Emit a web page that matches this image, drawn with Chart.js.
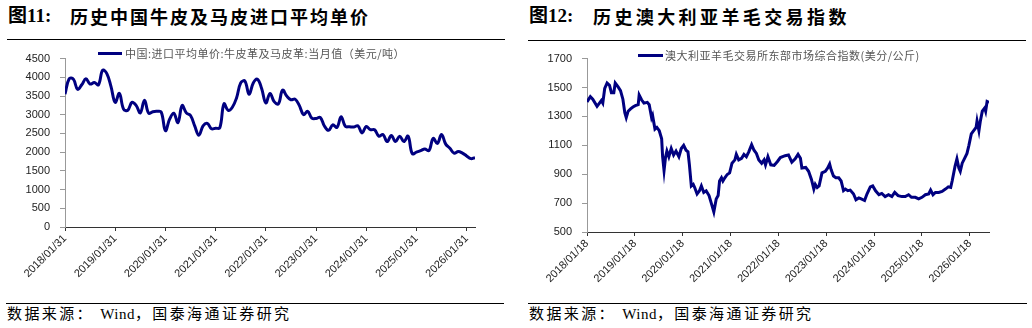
<!DOCTYPE html>
<html>
<head>
<meta charset="utf-8">
<script src="https://cdn.jsdelivr.net/npm/chart.js@4/dist/chart.umd.min.js"></script>
<style>
  body { margin: 0; width: 1032px; height: 328px; background: #fff; position: relative; overflow: hidden;
         font-family: "Liberation Serif", "Noto Sans CJK SC", serif; }
  .num { position: absolute; top: 6px; font-size: 19px; line-height: 20px; font-weight: bold; white-space: nowrap; }
  .ttl { position: absolute; top: 6px; font-size: 18px; line-height: 20px; font-weight: bold; white-space: nowrap;
         font-family: "Noto Sans CJK SC", sans-serif; }
  .rule { position: absolute; height: 0; border-top: 1.5px solid #000; }
  .src { position: absolute; top: 305px; font-size: 15px; line-height: 16px; white-space: nowrap; letter-spacing: 2.4px; }
  .src .cn { font-family: "Noto Sans CJK SC", sans-serif; }
  .src .en { letter-spacing: 0.5px; }
  .leg { position: absolute; font-family: "Noto Sans CJK SC", sans-serif; font-size: 11px; line-height: 12px;
         color: #555; white-space: nowrap; }
  .legline { position: absolute; height: 3px; background: #000080; }
  canvas { position: absolute; }
</style>
</head>
<body>

<div class="num" style="left:8px">图11:</div>
<div class="ttl" style="left:70px;letter-spacing:2px">历史中国牛皮及马皮进口平均单价</div>
<div class="rule" style="left:7px;width:498px;top:39px"></div>

<div class="num" style="left:529px">图12:</div>
<div class="ttl" style="left:593px;letter-spacing:3.4px">历史澳大利亚羊毛交易指数</div>
<div class="rule" style="left:528px;width:498px;top:40px"></div>

<canvas id="hide" width="498" height="258" style="left:7px;top:42px"></canvas>
<canvas id="wool" width="498" height="258" style="left:522px;top:42px"></canvas>

<div class="legline" style="left:98px;top:52px;width:24px"></div>
<div class="leg" style="left:125px;top:47px;letter-spacing:0.5px">中国:进口平均单价:牛皮革及马皮革:当月值（美元/吨）</div>
<div class="legline" style="left:638px;top:54px;width:25px"></div>
<div class="leg" style="left:665px;top:49px;letter-spacing:0.5px">澳大利亚羊毛交易所东部市场综合指数(美分/公斤)</div>

<div class="rule" style="left:6px;width:498px;top:303px"></div>
<div class="src" style="left:7px"><span class="cn">数据来源：</span> <span class="en">Wind</span><span class="cn">，国泰海通证券研究</span></div>
<div class="rule" style="left:528px;width:499px;top:303px"></div>
<div class="src" style="left:529px"><span class="cn">数据来源：</span> <span class="en">Wind</span><span class="cn">，国泰海通证券研究</span></div>

<script>
// 图11 月度数据 2018/01 - 2026/03 (美元/吨)
const hideTicks = ['2018/01/31', '2019/01/31', '2020/01/31', '2021/01/31', '2022/01/31',
  '2023/01/31', '2024/01/31', '2025/01/31', '2026/01/31'];
const hideValues = [
  3550, 3960, 3950, 3680, 3800, 3960, 3820, 3860, 3800, 4190,
  4100, 3750, 3330, 3570, 3150, 3120, 3330, 3250, 3050, 3390,
  3040, 3080, 3090, 3070, 2575, 2880, 3040, 2790, 3245, 3050,
  2980, 2700, 2454, 2700, 2770, 2626, 2640, 2650, 3290, 3116,
  3200, 3450, 3850, 3900, 3546, 3850, 3950, 3700, 3314, 3570,
  3350, 3290, 3657, 3500, 3400, 3417, 3250, 3005, 3090, 2910,
  2900, 2930, 2700, 2583, 2729, 2661, 2944, 2690, 2680, 2670,
  2704, 2515, 2686, 2600, 2600, 2428, 2472, 2283, 2446, 2283,
  2428, 2283, 2428, 1960, 2000, 2040, 2085, 2041, 2368, 2232,
  2472, 2214, 2103, 1974, 2016, 1974, 1900, 1827, 1853
];

// 图12 周度数据, woolT = 距 2018/01/18 的年数 (美分/公斤)
const woolTicks = ['2018/01/18', '2019/01/18', '2020/01/18', '2021/01/18', '2022/01/18',
  '2023/01/18', '2024/01/18', '2025/01/18', '2026/01/18'];
const woolT = [
  0.00, 0.07, 0.12, 0.21, 0.26, 0.30, 0.33, 0.37, 0.42, 0.47,
  0.51, 0.56, 0.59, 0.65, 0.70, 0.75, 0.79, 0.82, 0.86, 0.91,
  0.96, 1.01, 1.07, 1.09, 1.14, 1.19, 1.26, 1.30, 1.35, 1.37,
  1.42, 1.46, 1.51, 1.56, 1.58, 1.61, 1.64, 1.67, 1.71, 1.76,
  1.81, 1.86, 1.92, 1.97, 2.02, 2.07, 2.11, 2.14, 2.18, 2.22,
  2.25, 2.30, 2.35, 2.39, 2.44, 2.49, 2.55, 2.60, 2.65, 2.70,
  2.74, 2.77, 2.81, 2.84, 2.88, 2.93, 2.98, 3.03, 3.09, 3.12,
  3.17, 3.23, 3.28, 3.33, 3.38, 3.44, 3.49, 3.54, 3.59, 3.65,
  3.70, 3.73, 3.78, 3.84, 3.91, 3.98, 4.04, 4.14, 4.21, 4.28,
  4.35, 4.41, 4.46, 4.49, 4.57, 4.63, 4.69, 4.74, 4.77, 4.81,
  4.85, 4.91, 4.98, 5.03, 5.07, 5.10, 5.15, 5.20, 5.26, 5.31,
  5.36, 5.40, 5.45, 5.50, 5.57, 5.62, 5.68, 5.73, 5.80, 5.85,
  5.92, 5.97, 6.03, 6.10, 6.16, 6.23, 6.30, 6.37, 6.43, 6.50,
  6.58, 6.65, 6.72, 6.78, 6.86, 6.93, 7.00, 7.07, 7.14, 7.18,
  7.23, 7.28, 7.35, 7.42, 7.49, 7.55, 7.60, 7.63, 7.69, 7.73,
  7.77, 7.80, 7.84, 7.89, 7.94, 7.98, 8.03, 8.08, 8.13, 8.15,
  8.19, 8.22, 8.26, 8.31, 8.33, 8.36, 8.40
];
const woolValues = [
  1400, 1437, 1419, 1370, 1392, 1410, 1392, 1493, 1531, 1516,
  1464, 1464, 1531, 1504, 1478, 1419, 1325, 1291, 1336, 1352,
  1365, 1374, 1381, 1448, 1415, 1392, 1397, 1381, 1291, 1307,
  1212, 1224, 1201, 1145, 1021, 925, 1015, 1060, 1021, 1078,
  1033, 1060, 1021, 1078, 1100, 1066, 1055, 965, 819, 830,
  808, 763, 785, 819, 774, 785, 752, 696, 639, 729,
  752, 853, 875, 853, 875, 898, 909, 976, 999, 1037,
  999, 1010, 1037, 1021, 1055, 1105, 1066, 1044, 999, 976,
  999, 965, 1021, 965, 961, 988, 1015, 1028, 1033, 983,
  1006, 1037, 1010, 943, 947, 920, 864, 797, 830, 808,
  819, 909, 920, 943, 970, 932, 887, 875, 875, 853,
  786, 797, 786, 790, 763, 723, 736, 729, 718, 763,
  812, 819, 785, 758, 767, 745, 758, 745, 774, 752,
  745, 745, 758, 740, 740, 729, 740, 758, 763, 790,
  758, 774, 774, 781, 797, 812, 808, 853, 954, 1006,
  943, 920, 976, 1010, 1044, 1100, 1179, 1201, 1224, 1269,
  1201, 1269, 1336, 1358, 1336, 1403, 1397
];

const navy = '#000080';
const tickFont = { family: 'Liberation Sans', size: 11 };

function makeChart(id, points, tension, xMax, tickLabels, tickStep, yMin, yMax, yStep, yWidth, xHeight, pad) {
  return new Chart(document.getElementById(id), {
    type: 'line',
    data: {
      datasets: [{
        data: points,
        borderColor: navy,
        backgroundColor: navy,
        borderWidth: 3,
        pointRadius: 0,
        tension: tension,
        fill: false
      }]
    },
    options: {
      responsive: false,
      animation: false,
      layout: { padding: pad },
      plugins: { legend: { display: false }, tooltip: { enabled: false } },
      scales: {
        x: {
          type: 'linear',
          min: 0,
          max: xMax,
          afterBuildTicks: (s) => { s.ticks = tickLabels.map((_, k) => ({ value: k * tickStep })); },
          afterFit: (s) => { s.height = xHeight; },
          ticks: {
            autoSkip: false,
            minRotation: 45,
            maxRotation: 45,
            padding: 1,
            color: '#222',
            font: tickFont,
            callback: (v) => tickLabels[Math.round(v / tickStep)]
          },
          grid: { drawOnChartArea: false, drawTicks: true, tickLength: 4, color: '#333' },
          border: { color: '#333', width: 1 }
        },
        y: {
          min: yMin,
          max: yMax,
          afterFit: (s) => { s.width = yWidth; },
          ticks: { stepSize: yStep, padding: 10, color: '#222', font: tickFont, callback: (v) => String(v) },
          grid: { drawOnChartArea: false, drawTicks: true, tickLength: 5, color: '#999' },
          border: { color: '#999', width: 1 }
        }
      }
    }
  });
}

const hidePoints = hideValues.map((v, i) => ({ x: i, y: v }));
const woolPoints = woolValues.map((v, i) => ({ x: woolT[i], y: v }));

makeChart('hide', hidePoints, 0.4, hideValues.length - 1, hideTicks, 12,
  0, 4500, 500, 58, 73, { top: 10, right: 30, left: 0, bottom: 0 });
makeChart('wool', woolPoints, 0, woolT[woolT.length - 1], woolTicks, 1,
  500, 1700, 200, 65, 68, { top: 11, right: 31, left: 0, bottom: 0 });
</script>
</body>
</html>
